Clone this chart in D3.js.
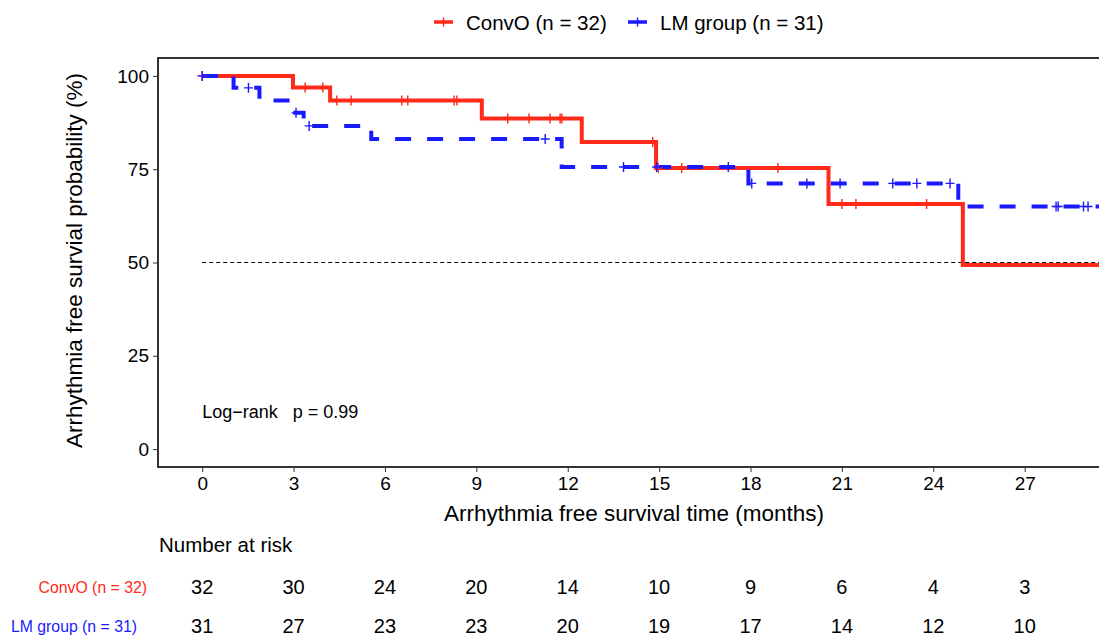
<!DOCTYPE html>
<html>
<head>
  <meta charset="UTF-8">
  <style>
    body { margin: 0; background: #fff; }
    svg { display: block; font-family: "Liberation Sans", Arial, sans-serif; }
  </style>
</head>
<body>
<svg></svg>
<script src="https://d3js.org/d3.v7.min.js"></script>
<script>

let width = 1099, height = 636;

// ConvO group: event times and survival after each drop
const convoTimes = [2.98, 4.2, 9.18, 12.46, 14.9, 20.56, 24.97];
const convoSurv = [96.9, 93.4, 88.6, 82.3, 75.3, 65.7, 49.3];
const convoCensor = [0, 3.38, 3.96, 4.42, 4.89, 6.55, 6.75, 8.27, 8.36, 10.03, 10.73,
  11.42, 11.75, 11.81, 14.79, 14.97, 15.74, 18.9, 21.0, 21.46, 23.78];

// LM group
const lmTimes = [1.03, 1.88, 2.89, 3.33, 5.55, 11.8, 17.93, 24.82];
const lmSurv = [96.8, 93.4, 90.1, 86.6, 83.1, 75.6, 71.2, 65.0];
const lmCensor = [0, 1.52, 3.08, 3.51, 11.26, 13.83, 14.92, 17.27, 18.04, 19.85, 20.94,
  22.67, 23.46, 24.55, 28.03, 28.1, 28.93, 29.08];

// number at risk table
const riskTimes = [0, 3, 6, 9, 12, 15, 18, 21, 24, 27];
const convoRisk = [32, 30, 24, 20, 14, 10, 9, 6, 4, 3];
const lmRisk = [31, 27, 23, 23, 20, 19, 17, 14, 12, 10];

const xTicks = [0, 3, 6, 9, 12, 15, 18, 21, 24, 27];
const yTicks = [0, 25, 50, 75, 100];
const groupNames = ["ConvO (n = 32)", "LM group (n = 31)"];

const red = "#ff2a1a", blue = "#1a1aff";

let svg = d3.select("svg")
    .attr("width", width)
    .attr("height", height);

// panel
const panel = {left: 158, top: 58, right: 1110, bottom: 467};

let x = d3.scaleLinear().domain([-1.45, 29.8]).range([panel.left, panel.right]);
let y = d3.scaleLinear().domain([-4.8, 104.8]).range([panel.bottom, panel.top]);

svg.append("defs").append("clipPath").attr("id", "clip")
  .append("rect")
  .attr("x", panel.left).attr("y", panel.top)
  .attr("width", panel.right - panel.left).attr("height", panel.bottom - panel.top);

// border
svg.append("rect")
  .attr("x", panel.left).attr("y", panel.top)
  .attr("width", panel.right - panel.left).attr("height", panel.bottom - panel.top)
  .attr("fill", "none").attr("stroke", "#000").attr("stroke-width", 1.6);

// axes
let yAxis = d3.axisLeft(y).tickValues(yTicks).tickSize(5).tickPadding(4);
let gy = svg.append("g").attr("transform", `translate(${panel.left},0)`).call(yAxis);
gy.select(".domain").remove();
gy.selectAll("text").attr("font-size", 19).attr("fill", "#000")
  .attr("font-family", "Liberation Sans, Arial, sans-serif");
gy.selectAll("line").attr("stroke", "#333");

let xAxis = d3.axisBottom(x).tickValues(xTicks).tickSize(5).tickPadding(5);
let gx = svg.append("g").attr("transform", `translate(0,${panel.bottom})`).call(xAxis);
gx.select(".domain").remove();
gx.selectAll("text").attr("font-size", 19).attr("fill", "#000")
  .attr("font-family", "Liberation Sans, Arial, sans-serif");
gx.selectAll("line").attr("stroke", "#333");

// axis titles
svg.append("text")
  .attr("transform", `translate(82,${(panel.top + panel.bottom) / 2 - 2}) rotate(-90)`)
  .attr("text-anchor", "middle")
  .attr("font-size", 22.5)
  .text("Arrhythmia free survial probability (%)");

svg.append("text")
  .attr("x", (panel.left + panel.right) / 2)
  .attr("y", 521)
  .attr("text-anchor", "middle")
  .attr("font-size", 22.5)
  .text("Arrhythmia free survival time (months)");

let plot = svg.append("g").attr("clip-path", "url(#clip)");

// median line
plot.append("line")
  .attr("x1", x(0)).attr("x2", panel.right)
  .attr("y1", y(50)).attr("y2", y(50))
  .attr("stroke", "#000").attr("stroke-width", 1.1)
  .attr("stroke-dasharray", "4,3");

function stepPoints(times, surv, end) {
  let pts = [[0, 100]];
  times.forEach((t, i) => pts.push([t, surv[i]]));
  pts.push([end, surv[surv.length - 1]]);
  return pts;
}

function survAt(times, surv, t) {
  let s = 100;
  times.forEach((tt, i) => { if (tt <= t) s = surv[i]; });
  return s;
}

let line = d3.line()
  .x(d => x(d[0]))
  .y(d => y(d[1]))
  .curve(d3.curveStepAfter);

plot.append("path")
  .attr("d", line(stepPoints(convoTimes, convoSurv, 30.5)))
  .attr("fill", "none").attr("stroke", red).attr("stroke-width", 4);

plot.append("path")
  .attr("d", line(stepPoints(lmTimes, lmSurv, 30.5)))
  .attr("fill", "none").attr("stroke", blue).attr("stroke-width", 4)
  .attr("stroke-dasharray", "16,16");

function censorMarks(times, surv, cens, color) {
  let g = plot.append("g");
  cens.forEach(t => {
    let cx = x(t), cy = y(survAt(times, surv, t));
    g.append("path")
      .attr("d", `M${cx - 4.5},${cy}H${cx + 4.5}M${cx},${cy - 5}V${cy + 5}`)
      .attr("stroke", color).attr("stroke-width", 1.4).attr("fill", "none");
  });
}
censorMarks(convoTimes, convoSurv, convoCensor, red);
censorMarks(lmTimes, lmSurv, lmCensor, blue);

// log-rank text
svg.append("text")
  .attr("x", x(0))
  .attr("y", 418)
  .attr("font-size", 18)
  .style("white-space", "pre")
  .text("Log\u2212rank   p = 0.99");

// legend
const legendItems = [
  {name: groupNames[0], color: red, x: 434},
  {name: groupNames[1], color: blue, x: 628}
];
legendItems.forEach(d => {
  let g = svg.append("g").attr("transform", `translate(${d.x},22)`);
  g.append("line").attr("x1", 0).attr("x2", 19).attr("y1", 0).attr("y2", 0)
    .attr("stroke", d.color).attr("stroke-width", 3.5);
  g.append("path").attr("d", "M5.5,0H13.5M9.5,-4.5V4.5")
    .attr("stroke", d.color).attr("stroke-width", 1.4);
  g.append("text").attr("x", 32).attr("y", 7.5)
    .attr("font-size", 20.5).text(d.name);
});

// number at risk table
svg.append("text")
  .attr("x", 159).attr("y", 552)
  .attr("font-size", 20.5)
  .text("Number at risk");

const riskRows = [
  {name: groupNames[0], color: red, values: convoRisk, y: 594, labelEnd: 147},
  {name: groupNames[1], color: blue, values: lmRisk, y: 633, labelEnd: 137}
];
riskRows.forEach(r => {
  svg.append("text")
    .attr("x", r.labelEnd).attr("y", r.y - 1)
    .attr("text-anchor", "end")
    .attr("font-size", 15.8)
    .attr("fill", r.color)
    .text(r.name);
  svg.append("g").selectAll("text")
    .data(r.values)
    .join("text")
    .attr("x", (d, i) => x(riskTimes[i]))
    .attr("y", r.y)
    .attr("text-anchor", "middle")
    .attr("font-size", 20)
    .text(d => d);
});

</script>
</body>
</html>
